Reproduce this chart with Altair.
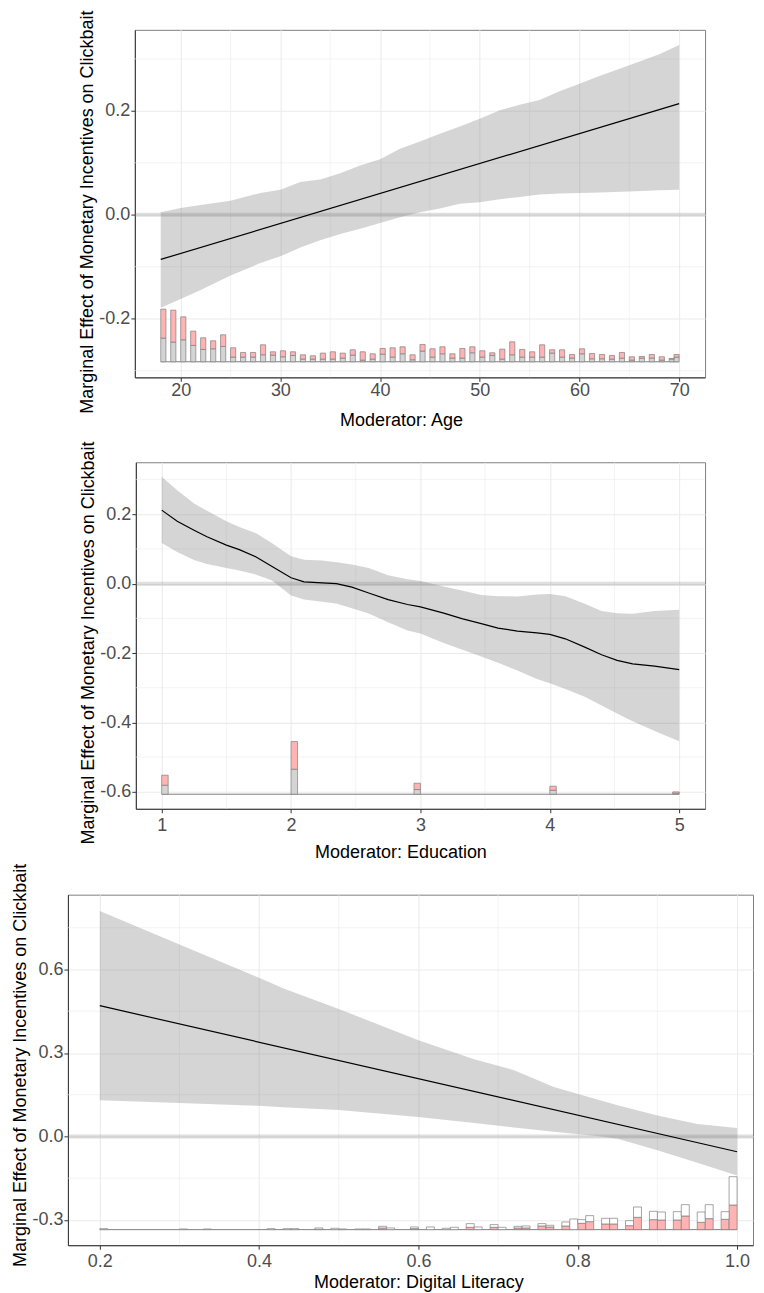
import altair as alt
import pandas as pd

FONT = "Liberation Sans"
YTITLE = "Marginal Effect of Monetary Incentives on Clickbait"
MINUS = "replace(format(datum.value, '.1f'), '\u2212', '-')"

# ---------------- Panel 1: Age ----------------
age_band_x = [18, 20, 22, 25, 28, 30, 32, 34, 36, 38, 40, 42, 44, 46, 48, 50, 52, 54, 56, 58, 60, 62, 65, 68, 70]
age_band_hi = [0.005, 0.013, 0.019, 0.027, 0.042, 0.048, 0.063, 0.068, 0.080, 0.095, 0.107, 0.127, 0.141,
               0.156, 0.170, 0.185, 0.201, 0.212, 0.221, 0.238, 0.252, 0.267, 0.288, 0.309, 0.327]
age_band_lo = [-0.179, -0.162, -0.145, -0.117, -0.093, -0.080, -0.063, -0.049, -0.037, -0.027, -0.016, -0.005,
               0.005, 0.012, 0.021, 0.024, 0.030, 0.034, 0.039, 0.041, 0.042, 0.043, 0.045, 0.047, 0.048]
age_line_x = [18, 70]
age_line_y = [-0.086, 0.214]
age_bin_left = list(range(18, 70)) + [69.48]
age_ctrl = [71, 59, 66, 49, 37, 39, 46, 14, 14, 14, 21, 20, 15, 19, 8, 8, 8, 8, 11, 20, 5, 8, 23, 14, 24, 6,
            32, 14, 24, 11, 11, 27, 14, 19, 8, 21, 14, 14, 14, 26, 14, 11, 24, 9, 9, 8, 11, 5, 11, 11, 5, 8, 14]
age_treat = [87, 96, 69, 43, 35, 24, 35, 28, 14, 14, 30, 10, 18, 11, 13, 10, 18, 22, 15, 16, 25, 16, 17, 28,
             21, 15, 20, 25, 21, 13, 29, 18, 19, 8, 30, 39, 23, 16, 37, 10, 22, 11, 15, 16, 13, 11, 17, 10, 5,
             11, 10, 2, 8]

# ---------------- Panel 2: Education ----------------
edu_x = [1.0, 1.12, 1.25, 1.35, 1.5, 1.6, 1.73, 1.85, 2.0, 2.1, 2.24, 2.35, 2.47, 2.6, 2.75, 2.9, 3.0, 3.18,
         3.32, 3.47, 3.6, 3.75, 3.9, 4.0, 4.12, 4.27, 4.4, 4.52, 4.64, 4.81, 5.0]
edu_line = [0.212, 0.180, 0.154, 0.135, 0.111, 0.098, 0.077, 0.050, 0.017, 0.005, 0.002, 0.000, -0.010,
            -0.027, -0.046, -0.060, -0.067, -0.085, -0.101, -0.115, -0.128, -0.137, -0.142, -0.146, -0.159,
            -0.183, -0.205, -0.221, -0.231, -0.238, -0.248]
edu_hi = [0.308, 0.269, 0.231, 0.210, 0.180, 0.163, 0.145, 0.117, 0.079, 0.069, 0.067, 0.062, 0.055, 0.045,
          0.024, 0.013, 0.008, -0.008, -0.020, -0.033, -0.036, -0.037, -0.031, -0.030, -0.036, -0.058, -0.079,
          -0.085, -0.087, -0.079, -0.075]
edu_lo = [0.117, 0.091, 0.068, 0.057, 0.045, 0.038, 0.026, 0.010, -0.034, -0.046, -0.052, -0.057, -0.071,
          -0.086, -0.111, -0.135, -0.144, -0.171, -0.190, -0.210, -0.228, -0.250, -0.275, -0.287, -0.304,
          -0.326, -0.351, -0.374, -0.397, -0.425, -0.454]
edu_bin_left = [1.0, 2.0, 2.95, 4.0, 4.95]
edu_ctrl = [27, 75, 14, 12, 3]
edu_treat = [30, 83, 19, 12, 4]

# ---------------- Panel 3: Digital Literacy ----------------
dl_band_x = [0.2, 0.3, 0.4, 0.43, 0.5, 0.6, 0.67, 0.72, 0.77, 0.83, 0.85, 0.9, 0.95, 1.0]
dl_band_hi = [0.81, 0.69, 0.57, 0.533, 0.458, 0.346, 0.277, 0.238, 0.178, 0.128, 0.112, 0.075, 0.045, 0.03]
dl_band_lo = [0.13, 0.12, 0.11, 0.105, 0.095, 0.07, 0.048, 0.032, 0.017, 0.0, -0.008, -0.05, -0.095, -0.14]
dl_line_x = [0.2, 1.0]
dl_line_y = [0.47, -0.055]
dl_bin_left = [0.20, 0.30, 0.33, 0.41, 0.43, 0.44, 0.47, 0.49, 0.50, 0.52, 0.53, 0.55, 0.56, 0.59, 0.61, 0.63,
               0.64, 0.66, 0.67, 0.69, 0.70, 0.72, 0.73, 0.75, 0.76, 0.78, 0.79, 0.80, 0.81, 0.83, 0.84, 0.86,
               0.87, 0.89, 0.90, 0.92, 0.93, 0.95, 0.96, 0.98, 0.99]
dl_treat = [0, 0, 0, 0, 0, 0, 1, 0, 0, 0, 0, 5, 0, 3, 0, 0, 0, 7, 0, 7, 0, 5, 5, 11, 8, 11, 0, 19, 24, 17, 17,
            12, 37, 30, 29, 29, 41, 22, 33, 31, 74]
dl_ctrl = [3, 2, 2, 3, 3, 3, 4, 4, 2, 2, 2, 5, 5, 5, 8, 4, 7, 11, 8, 8, 7, 5, 6, 7, 5, 12, 32, 11, 18, 17, 17,
           15, 31, 25, 24, 25, 34, 31, 42, 23, 85]

GRAY_BAR = "#d4d4d4"
PINK_BAR = "#ffb3b3"
WHITE_BAR = "#ffffff"


def hist_df(lefts, width, lower, upper, base, unit):
    rows = []
    for l, a, b in zip(lefts, lower, upper):
        y1 = base + a * unit
        y2 = y1 + b * unit
        if a > 0:
            rows.append(dict(x0=l, x1=l + width, y0=base, y1=y1, part="lower"))
        if b > 0:
            rows.append(dict(x0=l, x1=l + width, y0=y1, y1=y2, part="upper"))
    return pd.DataFrame(rows)


def panel(band, line, hist, base_rng, base_y, xdom, ydom, xvals, yvals, xminor, yminor, w, h,
          xtitle, xfmt_expr, colors, title_dx, title_dy, lab_pad_x, title_pad_x, pad_top):
    xs = alt.Scale(domain=xdom, nice=False, zero=False)
    ys = alt.Scale(domain=ydom, nice=False, zero=False)
    xa_kw = dict(values=xvals, title=xtitle, labelPadding=lab_pad_x, titlePadding=title_pad_x,
                 titleX=w / 2 + title_dx, titleLimit=2000)
    if xfmt_expr:
        xa_kw["labelExpr"] = xfmt_expr
    else:
        xa_kw["format"] = "d"
    xaxis = alt.Axis(**xa_kw)
    yaxis = alt.Axis(values=yvals, title=YTITLE, labelExpr=MINUS, labelPadding=1, titlePadding=2,
                     titleY=h / 2 + title_dy, titleLimit=2000)

    def X(f):
        return alt.X(f, scale=xs, axis=xaxis)

    def Y(f):
        return alt.Y(f, scale=ys, axis=yaxis)

    minor_x = alt.Chart(pd.DataFrame({"x": xminor})).mark_rule(color="#ebebeb", strokeWidth=0.6).encode(x=X("x:Q"))
    minor_y = alt.Chart(pd.DataFrame({"y": yminor})).mark_rule(color="#ebebeb", strokeWidth=0.6).encode(y=Y("y:Q"))
    zero = alt.Chart(pd.DataFrame({"y": [0.0]})).mark_rule(color="#808080", opacity=0.25, strokeWidth=4).encode(y=Y("y:Q"))
    band_l = alt.Chart(band).mark_area(color="#7f7f7f", opacity=0.33).encode(x=X("x:Q"), y=Y("lo:Q"), y2="hi:Q")
    line_l = alt.Chart(line).mark_line(color="black", strokeWidth=1.2).encode(x=X("x:Q"), y=Y("y:Q"))
    base_l = alt.Chart(pd.DataFrame({"a": [base_rng[0]], "b": [base_rng[1]], "y": [base_y]})).mark_rule(
        color="#7f7f7f", strokeWidth=1).encode(x=X("a:Q"), x2="b:Q", y=Y("y:Q"))
    layers = [minor_x, minor_y, zero, band_l, line_l, base_l]
    for part, col in zip(["lower", "upper"], colors):
        sub = hist[hist["part"] == part]
        layers.append(alt.Chart(sub).mark_rect(fill=col, stroke="#7f7f7f", strokeWidth=0.7).encode(
            x=X("x0:Q"), x2="x1:Q", y=Y("y0:Q"), y2="y1:Q"))
    if pad_top:
        # invisible marker that reserves layout space above the plot area
        layers.append(alt.Chart(pd.DataFrame({"p": [0]})).mark_rule(opacity=0).encode(
            x=alt.value(0), y=alt.value(-pad_top), y2=alt.value(-pad_top + 1)))
    return alt.layer(*layers).properties(width=w, height=h)


p1 = panel(
    pd.DataFrame({"x": age_band_x, "lo": age_band_lo, "hi": age_band_hi}),
    pd.DataFrame({"x": age_line_x, "y": age_line_y}),
    hist_df(age_bin_left, 0.52, age_ctrl, age_treat, -0.283, 1 / 1560),
    [18, 70], -0.283, [15.4, 72.6], [-0.313, 0.356], [20, 30, 40, 50, 60, 70], [-0.2, 0.0, 0.2],
    [25, 35, 45, 55, 65], [-0.3, -0.1, 0.1, 0.3], 571, 348, "Moderator: Age", None,
    [GRAY_BAR, PINK_BAR], -19, 8, 0, 12, 0)

p2 = panel(
    pd.DataFrame({"x": edu_x, "lo": edu_lo, "hi": edu_hi}),
    pd.DataFrame({"x": edu_x, "y": edu_line}),
    hist_df(edu_bin_left, 0.05, edu_ctrl, edu_treat, -0.607, 1 / 1041),
    [1, 5], -0.607, [0.8, 5.2], [-0.649, 0.35], [1, 2, 3, 4, 5], [-0.6, -0.4, -0.2, 0.0, 0.2],
    [1.5, 2.5, 3.5, 4.5], [-0.5, -0.3, -0.1, 0.1, 0.3], 570, 347, "Moderator: Education", None,
    [GRAY_BAR, PINK_BAR], -20, 7, 4, 9, 31.5)

p3 = panel(
    pd.DataFrame({"x": dl_band_x, "lo": dl_band_lo, "hi": dl_band_hi}),
    pd.DataFrame({"x": dl_line_x, "y": dl_line_y}),
    hist_df(dl_bin_left, 0.01, dl_treat, dl_ctrl, -0.335, 1 / 836),
    [0.2, 1.0], -0.335, [0.16, 1.02], [-0.391, 0.869], [0.2, 0.4, 0.6, 0.8, 1.0], [-0.3, 0.0, 0.3, 0.6],
    [0.3, 0.5, 0.7, 0.9], [-0.15, 0.15, 0.45, 0.75], 686, 351, "Moderator: Digital Literacy", MINUS,
    [PINK_BAR, WHITE_BAR], 8, -5, 3, 3, 31.5)


def spacer(wd):
    return alt.Chart(pd.DataFrame({"s": [0]})).mark_point(opacity=0, size=1).encode(
        x=alt.value(0), y=alt.value(0)).properties(width=wd, height=10,
                                                   view=alt.ViewBackground(stroke="transparent"))


row1 = alt.hconcat(spacer(9), p1, spacing=0)
row2 = alt.hconcat(spacer(10), p2, spacing=0)

chart = alt.vconcat(row1, row2, p3, spacing=0).properties(
    padding={"left": 3, "right": 0, "top": 0, "bottom": 0}
).configure_view(
    stroke="#7f7f7f", strokeWidth=1
).configure_axis(
    labelFont=FONT, titleFont=FONT, labelFontSize=18, titleFontSize=18, labelColor="#4d4d4d",
    titleColor="#000000", titleFontWeight="normal", tickColor="#333333", domainColor="#333333",
    tickSize=4, grid=True, gridColor="#ebebeb", gridWidth=1.1, labelFlush=False, labelOverlap=False
)

chart.save("out.html", embed_options={"renderer": "svg", "actions": False})
